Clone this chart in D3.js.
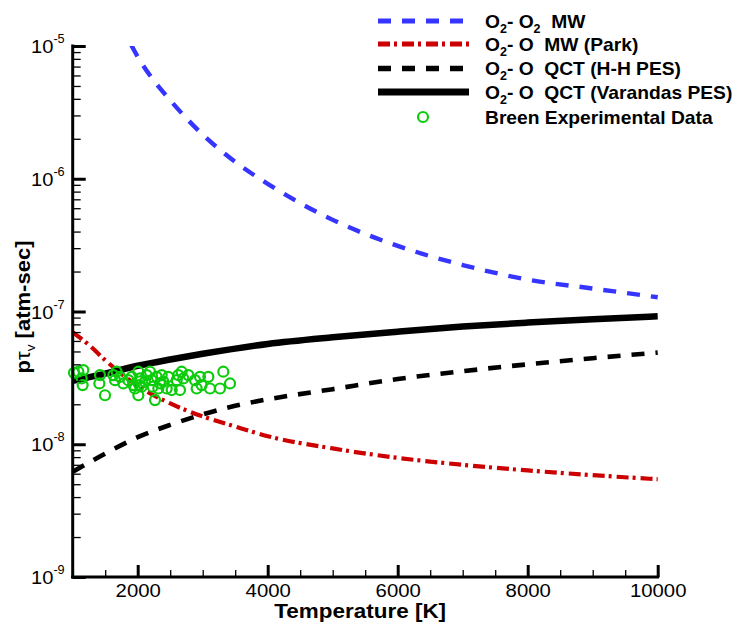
<!DOCTYPE html>
<html>
<head>
<meta charset="utf-8">
<script src="https://cdn.jsdelivr.net/npm/d3@7"></script>
<style>
  html, body { margin: 0; padding: 0; background: #fff; }
  svg { display: block; font-family: "Liberation Sans", Arial, sans-serif; }
</style>
</head>
<body>
<svg id="chart" width="743" height="623"></svg>
<script>
// Vibrational relaxation time p*tau_v versus temperature

// O2-O2 Millikan-White
const mwO2O2T = [1900, 2000, 2200, 2500, 3000, 3500, 4000, 5000, 6000, 7000, 8000, 9000, 10000];
const mwO2O2P = [1.02e-5, 8.3e-6, 5.9e-6, 3.9e-6, 2.15e-6, 1.34e-6, 9.15e-7, 4.9e-7, 3.12e-7, 2.24e-7, 1.74e-7, 1.49e-7, 1.28e-7];

// O2-O Millikan-White (Park)
const mwParkT = [1000, 1250, 1500, 2000, 2500, 3000, 3500, 4000, 5000, 6000, 7000, 8000, 9000, 10000];
const mwParkP = [7.0e-8, 5.6e-8, 4.3e-8, 2.75e-8, 2.03e-8, 1.62e-8, 1.36e-8, 1.15e-8, 9.3e-9, 7.9e-9, 7.0e-9, 6.35e-9, 5.85e-9, 5.45e-9];

// O2-O QCT (H-H PES)
const qctHHT = [1000, 1500, 2000, 2500, 3000, 3500, 4000, 5000, 6000, 7000, 8000, 9000, 10000];
const qctHHP = [6.2e-9, 8.5e-9, 1.13e-8, 1.4e-8, 1.68e-8, 1.95e-8, 2.18e-8, 2.6e-8, 3.1e-8, 3.55e-8, 4.0e-8, 4.45e-8, 4.9e-8];

// O2-O QCT (Varandas PES)
const qctVarT = [1000, 1500, 2000, 2500, 3000, 4000, 5000, 6000, 7000, 8000, 9000, 10000];
const qctVarP = [3.0e-8, 3.4e-8, 3.9e-8, 4.35e-8, 4.8e-8, 5.7e-8, 6.4e-8, 7.05e-8, 7.7e-8, 8.25e-8, 8.75e-8, 9.2e-8];

// Breen experimental data
const breenT = [1020, 1087, 1164, 1138, 1153, 1420, 1410, 1497, 1625, 1676, 1651, 1728, 1779, 1856, 1907, 1933, 1958,
  2010, 2035, 2025, 2010, 2061, 2112, 2138, 2189, 2215, 2230, 2266, 2292, 2317, 2343, 2369, 2394, 2446, 2471,
  2523, 2600, 2625, 2676, 2651, 2702, 2779, 2882, 2907, 2958, 2984, 3087, 3112, 3266, 3317, 3420];
const breenP = [3.45e-8, 3.52e-8, 3.62e-8, 3.13e-8, 2.79e-8, 3.32e-8, 2.87e-8, 2.34e-8, 3.32e-8, 3.52e-8, 3.04e-8, 3.22e-8, 2.87e-8, 3.04e-8, 3.22e-8, 2.79e-8, 2.63e-8,
  3.52e-8, 3.13e-8, 2.79e-8, 2.34e-8, 2.71e-8, 2.96e-8, 3.32e-8, 3.52e-8, 3.04e-8, 2.71e-8, 2.15e-8, 3.22e-8, 2.63e-8, 2.87e-8, 3.32e-8, 2.96e-8, 2.63e-8, 3.22e-8,
  2.56e-8, 3.04e-8, 3.32e-8, 3.52e-8, 2.56e-8, 3.13e-8, 3.32e-8, 3.04e-8, 2.63e-8, 3.22e-8, 2.79e-8, 3.22e-8, 2.63e-8, 2.63e-8, 3.52e-8, 2.87e-8];

// Axis ticks
const xMajor = [2000, 4000, 6000, 8000, 10000];
const xMinor = [1500, 2500, 3000, 3500, 4500, 5000, 5500, 6500, 7000, 7500, 8500, 9000, 9500];
const yExponents = [-9, -8, -7, -6, -5];

const legendItems = [
  { key: "mw", parts: [["O", 0], ["2", 1], ["- O", 0], ["2", 1], ["  MW", 0]] },
  { key: "park", parts: [["O", 0], ["2", 1], ["- O  MW (Park)", 0]] },
  { key: "hh", parts: [["O", 0], ["2", 1], ["- O  QCT (H-H PES)", 0]] },
  { key: "var", parts: [["O", 0], ["2", 1], ["- O  QCT (Varandas PES)", 0]] },
  { key: "breen", parts: [["Breen Experimental Data", 0]] }
];

const styles = {
  mw:   { color: "#3535ff", width: 4.4, dash: "13,11" },
  park: { color: "#cc0000", width: 4.2, dash: "12,4,3,5" },
  hh:   { color: "#000000", width: 4.6, dash: "13,11" },
  var:  { color: "#000000", width: 6.5, dash: null }
};
const green = "#0ccc0c";

const svg = d3.select("#chart");
const plotLeft = 72.7, plotRight = 657.7, plotTop = 46, plotBottom = 577;

const x = d3.scaleLinear().domain([1000, 10000]).range([plotLeft, plotRight]);
const y = d3.scaleLog().domain([1e-9, 1e-5]).range([plotBottom, plotTop]);

svg.append("defs").append("clipPath").attr("id", "plotclip")
  .append("rect").attr("x", plotLeft).attr("y", plotTop)
  .attr("width", plotRight - plotLeft + 10).attr("height", plotBottom - plotTop);

// Curves
const line = d3.line().x(d => x(d[0])).y(d => y(d[1])).curve(d3.curveMonotoneX);
const curves = [
  ["mw", mwO2O2T, mwO2O2P],
  ["park", mwParkT, mwParkP],
  ["hh", qctHHT, qctHHP],
  ["var", qctVarT, qctVarP]
];
const gCurves = svg.append("g").attr("clip-path", "url(#plotclip)");
curves.forEach(([key, ts, ps]) => {
  const s = styles[key];
  gCurves.append("path")
    .datum(ts.map((t, i) => [t, ps[i]]))
    .attr("d", line)
    .attr("fill", "none")
    .attr("stroke", s.color)
    .attr("stroke-width", s.width)
    .attr("stroke-dasharray", s.dash)
    .attr("stroke-linecap", "butt");
});

// Experimental points
svg.append("g").selectAll("circle")
  .data(breenT.map((t, i) => [t, breenP[i]]))
  .join("circle")
  .attr("cx", d => x(d[0]))
  .attr("cy", d => y(d[1]))
  .attr("r", 5)
  .attr("fill", "none")
  .attr("stroke", green)
  .attr("stroke-width", 2.2);

// X axis: minor and major ticks point into the plot
const gx = svg.append("g").attr("transform", `translate(0,${plotBottom})`);
gx.call(d3.axisBottom(x).tickValues(xMinor).tickSize(-7).tickFormat(""));
gx.selectAll(".tick line").attr("stroke-width", 1.3);
gx.select(".domain").remove();

const gxMaj = svg.append("g").attr("transform", `translate(0,${plotBottom})`);
gxMaj.call(d3.axisBottom(x).tickValues(xMajor).tickSize(-12).tickPadding(8).tickFormat(d3.format("d")));
gxMaj.attr("font-size", 19).attr("font-family", "Liberation Sans, Arial, sans-serif");
gxMaj.selectAll(".tick line").attr("stroke-width", 3);
gxMaj.selectAll(".tick text")
  .attr("fill", "#000")
  .attr("dy", "0.62em")
  .attr("transform", "scale(1.07,1)");
gxMaj.select(".domain").remove();

// Y axis: log decades with minor ticks 2..9
const yMinorVals = [];
yExponents.slice(0, -1).forEach(e => {
  for (let k = 2; k <= 9; k++) yMinorVals.push(k * Math.pow(10, e));
});
const gy = svg.append("g").attr("transform", `translate(${plotLeft},0)`);
gy.call(d3.axisLeft(y).tickValues(yMinorVals).tickSize(-8).tickFormat(""));
gy.selectAll(".tick line").attr("stroke-width", 1.3);
gy.select(".domain").remove();

const gyMaj = svg.append("g").attr("transform", `translate(${plotLeft},0)`);
gyMaj.call(d3.axisLeft(y).tickValues(yExponents.map(e => Math.pow(10, e))).tickSize(-13).tickFormat(""));
gyMaj.selectAll(".tick line").attr("stroke-width", 3);
gyMaj.select(".domain").remove();

// y tick labels: 10 with a superscript exponent
const yLab = svg.append("g").attr("fill", "#000");
yExponents.forEach(e => {
  const t = yLab.append("text")
    .attr("transform", `translate(${plotLeft - 8},${y(Math.pow(10, e)) + 7}) scale(1.06,1)`)
    .attr("text-anchor", "end")
    .attr("font-size", 19);
  t.append("tspan").text("10");
  t.append("tspan").attr("font-size", 12).attr("dy", -10).text(String(e));
});

// Axis lines
svg.append("line").attr("x1", plotLeft).attr("x2", plotLeft)
  .attr("y1", plotTop - 1.5).attr("y2", plotBottom + 1.5)
  .attr("stroke", "#000").attr("stroke-width", 3);
svg.append("line").attr("x1", plotLeft - 1.5).attr("x2", plotRight + 1.5)
  .attr("y1", plotBottom).attr("y2", plotBottom)
  .attr("stroke", "#000").attr("stroke-width", 3);

// Axis titles
svg.append("text")
  .attr("transform", `translate(${(plotLeft + plotRight) / 2 - 5},618) scale(1.07,1)`)
  .attr("text-anchor", "middle")
  .attr("font-size", 21).attr("font-weight", "bold")
  .text("Temperature [K]");

const yt = svg.append("text")
  .attr("transform", "translate(30,307) rotate(-90) scale(1.05,1)")
  .attr("text-anchor", "middle")
  .attr("font-size", 21).attr("font-weight", "bold");
yt.append("tspan").text("p");
yt.append("tspan").attr("font-weight", "normal").text("τ");
yt.append("tspan").attr("font-size", 13).attr("font-weight", "normal").attr("dy", 5).text("v");
yt.append("tspan").attr("dy", -5).text(" [atm-sec]");

// Legend
const legRows = [21, 44, 68.5, 92, 117];
const lg = svg.append("g");
legendItems.forEach((item, i) => {
  const ly = legRows[i];
  if (item.key === "breen") {
    lg.append("circle").attr("cx", 423).attr("cy", ly).attr("r", 5)
      .attr("fill", "none").attr("stroke", green).attr("stroke-width", 2.2);
  } else {
    const s = styles[item.key];
    lg.append("line").attr("x1", 378).attr("x2", 469).attr("y1", ly).attr("y2", ly)
      .attr("stroke", s.color).attr("stroke-width", s.width + (item.key === "var" ? 0.5 : 0.8))
      .attr("stroke-dasharray", s.dash);
  }
  const t = lg.append("text")
    .attr("transform", `translate(485,${ly + 6.5}) scale(1.04,1)`)
    .attr("font-size", 18.5).attr("font-weight", "bold")
    .attr("xml:space", "preserve");
  let lastSub = 0;
  item.parts.forEach(([str, sub]) => {
    const ts = t.append("tspan").text(str);
    if (sub) { ts.attr("font-size", 12).attr("dy", 5); }
    else if (lastSub) { ts.attr("dy", -5); }
    lastSub = sub;
  });
});
</script>
</body>
</html>
